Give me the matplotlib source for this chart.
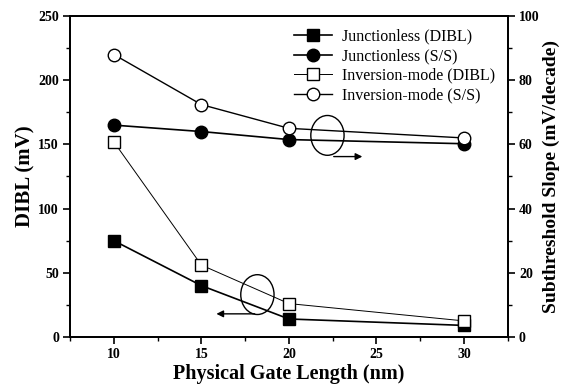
import matplotlib
matplotlib.use("Agg")
import matplotlib.pyplot as plt
from matplotlib.patches import Ellipse
from matplotlib.ticker import MultipleLocator

plt.rcParams['font.family'] = ['Liberation Serif', 'DejaVu Serif']

gate_length = [10, 15, 20, 30]
jl_dibl = [75, 40, 14, 9]
im_dibl = [152, 56, 26, 12.5]
jl_ss = [66, 64, 61.5, 60.2]
im_ss = [88, 72.4, 65, 62]

fig = plt.figure(figsize=(5.62, 3.9), dpi=100)
ax = fig.add_axes([0.1246, 0.136, 0.779, 0.823])
ax2 = ax.twinx()

ms = 8
h1, = ax.plot(gate_length, jl_dibl, color='black', lw=1.2, marker='s', ms=ms,
              mfc='black', mec='black', label='Junctionless (DIBL)')
h2, = ax2.plot(gate_length, jl_ss, color='black', lw=1.2, marker='o', ms=ms + 1,
               mfc='black', mec='black', label='Junctionless (S/S)')
h3, = ax.plot(gate_length, im_dibl, color='black', lw=0.7, marker='s', ms=ms,
              mfc='white', mec='black', mew=1.0, label='Inversion-mode (DIBL)')
h4, = ax2.plot(gate_length, im_ss, color='black', lw=1.0, marker='o', ms=ms + 1,
               mfc='white', mec='black', mew=1.0, label='Inversion-mode (S/S)')

ax.set_xlim(7.5, 32.5)
ax.set_ylim(0, 250)
ax2.set_ylim(0, 100)
ax.xaxis.set_major_locator(MultipleLocator(5))
ax.xaxis.set_minor_locator(MultipleLocator(2.5))
ax.yaxis.set_major_locator(MultipleLocator(50))
ax.yaxis.set_minor_locator(MultipleLocator(25))
ax2.yaxis.set_major_locator(MultipleLocator(20))
ax2.yaxis.set_minor_locator(MultipleLocator(10))

for a in (ax, ax2):
    a.tick_params(which='major', direction='out', length=5, width=1.2, labelsize=10, pad=3)
    a.tick_params(which='minor', direction='out', length=3, width=1.0)
    for s in a.spines.values():
        s.set_linewidth(1.3)
    for lab in a.get_xticklabels() + a.get_yticklabels():
        lab.set_fontweight('bold')
ax.set_xticks([10, 15, 20, 25, 30])
ax.set_xticklabels(['10', '15', '20', '25', '30'], fontweight='bold')

ax.set_xlabel('Physical Gate Length (nm)', fontsize=14.5, fontweight='bold', labelpad=2)
ax.set_ylabel('DIBL (mV)', fontsize=15, fontweight='bold', labelpad=2)
ax2.set_ylabel('Subthreshold Slope (mV/decade)', fontsize=14, fontweight='bold', labelpad=2)

# annotation ellipses and arrows
ax.add_patch(Ellipse((18.2, 33), 1.9, 31, fill=False, ec='black', lw=1.0))
ax.annotate('', xy=(15.7, 18), xytext=(18.2, 18),
            arrowprops=dict(arrowstyle='-|>', color='black', lw=1.0, mutation_scale=10))
ax.add_patch(Ellipse((22.2, 157), 1.9, 31, fill=False, ec='black', lw=1.0))
ax.annotate('', xy=(24.35, 140.5), xytext=(22.4, 140.5),
            arrowprops=dict(arrowstyle='-|>', color='black', lw=1.0, mutation_scale=10))

leg = ax.legend(handles=[h1, h2, h3, h4], loc='upper right', frameon=False,
                fontsize=11.5, handlelength=2.4, borderaxespad=0.4,
                labelspacing=0.22, handletextpad=0.6)

fig.savefig('out.png', dpi=100)
